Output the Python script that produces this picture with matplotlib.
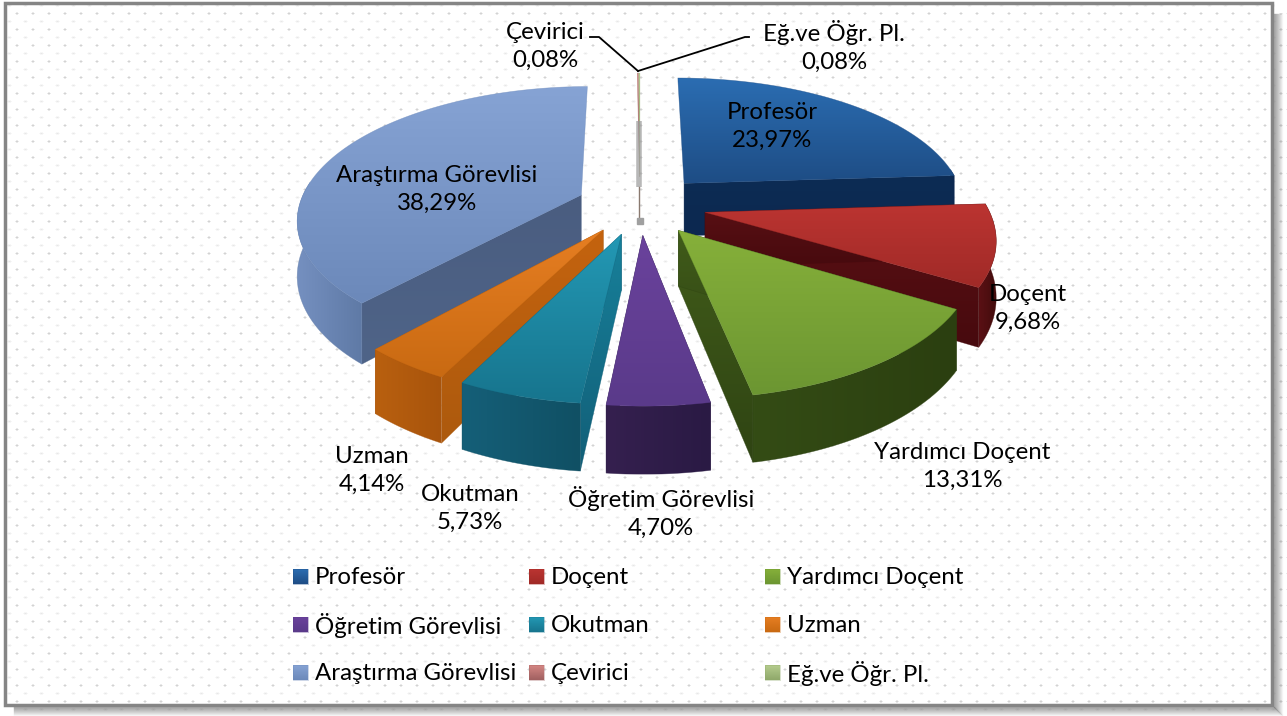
import numpy as np
import matplotlib
matplotlib.use("Agg")
import matplotlib.pyplot as plt
from matplotlib.colors import LinearSegmentedColormap
from matplotlib.patches import Polygon

W, H = 1287, 716

categories = ["Profesör", "Doçent", "Yardımcı Doçent", "Öğretim Görevlisi", "Okutman",
              "Uzman", "Araştırma Görevlisi", "Çevirici", "Eğ.ve Öğr. Pl."]
shares = [23.97, 9.68, 13.31, 4.70, 5.73, 4.14, 38.29, 0.08, 0.08]
share_labels = ["23,97%", "9,68%", "13,31%", "4,70%", "5,73%", "4,14%", "38,29%", "0,08%", "0,08%"]

top_light = ["#2b6db2", "#bb3431", "#86b03a", "#6a429c", "#2398b4", "#e67e22", "#86a3d4", "#d58784", "#b5cc8e"]
top_dark = ["#1e4d85", "#a02a27", "#6c9632", "#5a3a8a", "#17758e", "#c96a12", "#6c89ba", "#a06060", "#8fa86a"]
cut_light = ["#0d2c54", "#5a1014", "#415c1a", "#38225a", "#17809a", "#c4630f", "#4a5d80", "#8a5050", "#708a50"]
cut_dark = ["#0c2850", "#470a0e", "#2f4413", "#281741", "#125f78", "#ad5a0d", "#4f6488", "#704040", "#5a7040"]
rim_light = ["#0d2c54", "#5a1014", "#344c15", "#35204f", "#155f78", "#b9600f", "#7590c0", "#8a5050", "#708a50"]
rim_dark = ["#0c2850", "#420c0c", "#2b3f10", "#2a1a44", "#105064", "#a8540c", "#5f7aa6", "#704040", "#5a7040"]

label_pos = [(772, 126), (1028, 308), (962, 466), (661, 512), (470, 508),
             (372, 470), (437, 189), (545, 46), (834, 46)]
legend_cols = [293, 529, 765]
legend_rows = [577, 625, 673]
draw_order = [6, 7, 8, 0, 1, 2, 5, 4, 3]
explode = [0.235, 0.235, 0.23, 0.225, 0.225, 0.225, 0.225, 0.225, 0.225]

# pie geometry, in pixels
CX, CY = 640, 205
RX, RY = 282, 130
PERSP = 0.17
DEPTH = 54


def project(theta, r, mid, e, z=0.0):
    x = r * np.sin(theta) + e * np.sin(mid)
    y = r * np.cos(theta) + e * np.cos(mid)
    w = 1 + PERSP * y
    return CX + RX * x / w, CY - RY * y / w + DEPTH * z / w


def fill_gradient(ax, pts, c1, c2, zorder, horizontal=False):
    pts = np.asarray(pts)
    poly = Polygon(pts, closed=True, facecolor="none", edgecolor="none", transform=ax.transData)
    ax.add_patch(poly)
    cmap = LinearSegmentedColormap.from_list("g", [c1, c2])
    grad = np.linspace(0, 1, 64).reshape(-1, 1)
    if horizontal:
        grad = grad.T
    x0, x1 = pts[:, 0].min(), pts[:, 0].max()
    y0, y1 = pts[:, 1].min(), pts[:, 1].max()
    if x1 - x0 < 1:
        x0, x1 = x0 - 1, x1 + 1
    if y1 - y0 < 1:
        y0, y1 = y0 - 1, y1 + 1
    im = ax.imshow(grad, cmap=cmap, extent=(x0, x1, y1, y0), origin="upper",
                   aspect="auto", zorder=zorder, interpolation="bilinear")
    im.set_clip_path(poly)
    # thin same-colour outline closes the seams
    ax.add_patch(Polygon(pts, closed=True, facecolor="none", edgecolor=c2,
                         linewidth=0.4, alpha=0.6, zorder=zorder))


def hidden_cut(apex, rim_pt):
    # a cut that climbs steeply up the picture faces away from the viewer
    return apex[1] - rim_pt[1] > abs(rim_pt[0] - apex[0])


def draw_slice(ax, i, start, end, zorder):
    mid = (start + end) / 2
    e = explode[i]
    th = np.linspace(start, end, 90)
    apex = np.array(project(0, 0, mid, e))
    low = np.array(project(0, 0, mid, e, 1))
    rim = np.column_stack(project(th, 1, mid, e))
    rim_low = np.column_stack(project(th, 1, mid, e, 1))
    if not hidden_cut(apex, rim[-1]):
        fill_gradient(ax, [apex, rim[-1], rim_low[-1], low], cut_light[i], cut_dark[i], zorder)
    if not hidden_cut(apex, rim[0]):
        fill_gradient(ax, [apex, rim[0], rim_low[0], low], cut_light[i], cut_dark[i], zorder + 0.1)
    # only the front part of the outer wall can be seen
    front = np.cos(th) < 0.12
    if front.sum() > 1:
        fill_gradient(ax, np.vstack([rim[front], rim_low[front][::-1]]), rim_light[i], rim_dark[i],
                      zorder + 0.2, horizontal=True)
    fill_gradient(ax, np.vstack([[apex], rim]), top_light[i], top_dark[i], zorder + 0.3)


def background(ax):
    img = np.ones((H, W))
    yy, xx = np.mgrid[0:H, 0:W]
    dark = ((yy % 16) == 13) & ((xx % 16) < 2)
    pale = ((yy % 16) == 5) & (((xx + 8) % 16) < 3)
    img[dark] = 0.58
    img[pale] = 0.84
    # small box smoothing so the dots look soft
    soft = (img + np.roll(img, 1, 0) + np.roll(img, -1, 0) + np.roll(img, 1, 1) + np.roll(img, -1, 1)) / 5
    ax.imshow(soft, cmap="gray", vmin=0, vmax=1, extent=(0, W, H, 0), aspect="auto",
              zorder=0, interpolation="bilinear")


def frame(ax):
    # soft shadow on the right and the bottom
    for k, a in enumerate(np.linspace(0.5, 0.05, 9)):
        ax.plot([1274 + k, 1274 + k], [14, 707 + k], color="#666666", alpha=a, lw=1, zorder=5)
        ax.plot([14, 1274 + k], [707 + k, 707 + k], color="#666666", alpha=a, lw=1, zorder=5)
    ax.add_patch(plt.Rectangle((0, 0), W, 2, color="white", zorder=5))
    ax.add_patch(plt.Rectangle((0, 0), 3, H, color="white", zorder=5))
    ax.add_patch(plt.Rectangle((5, 3), 1267, 702, fill=False, edgecolor="#858585", lw=2.5, zorder=6))
    ax.add_patch(plt.Rectangle((1275, 0), 12, 12, color="white", zorder=5))
    ax.add_patch(plt.Rectangle((0, 708), 12, 8, color="white", zorder=5))


def main():
    plt.rcParams["font.family"] = ["Lato", "DejaVu Sans"]
    fig = plt.figure(figsize=(W / 100, H / 100), dpi=100)
    ax = fig.add_axes([0, 0, 1, 1])
    background(ax)

    total = sum(shares)
    bounds = np.cumsum([0] + shares) / total * 2 * np.pi
    for n, i in enumerate(draw_order):
        draw_slice(ax, i, bounds[i], bounds[i + 1], 10 + n)

    # grey smear on the two tiny slices
    mid = bounds[8]
    gx, gy0 = project(mid, 0.5, mid, explode[8])
    _, gy1 = project(mid, 0, mid, explode[8], 0.2)
    ax.plot([gx, gx], [gy0, gy1], color="#9a9a9a", lw=4, alpha=0.7, zorder=30, solid_capstyle="butt")
    ex, ey = project(mid, 0, mid, explode[8], 0.85)
    ax.plot([gx, gx], [gy1, ey], color="#8a7a70", lw=1, zorder=30)
    ax.plot([ex], [ey], marker="s", ms=5, color="#a0a0a0", zorder=30)

    # leader lines
    ax.plot([590, 599, 638], [37, 37, 71], color="black", lw=1.3, zorder=40)
    ax.plot([749, 745, 638], [37, 37, 71], color="black", lw=1.3, zorder=40)

    for i, (x, y) in enumerate(label_pos):
        ax.text(x, y, categories[i] + "\n" + share_labels[i], ha="center", va="center",
                fontsize=17.3, color="black", linespacing=1.4, zorder=50)

    for i, name in enumerate(categories):
        x = legend_cols[i % 3]
        y = legend_rows[i // 3]
        box = [(x, y - 8), (x + 15, y - 8), (x + 15, y + 7), (x, y + 7)]
        fill_gradient(ax, box, top_light[i], top_dark[i], 50)
        ax.text(x + 22, y, name, ha="left", va="center", fontsize=17.3, color="black", zorder=50)

    frame(ax)
    ax.set_xlim(0, W)
    ax.set_ylim(H, 0)
    ax.axis("off")
    fig.savefig("out.png", dpi=100)


if __name__ == "__main__":
    main()
